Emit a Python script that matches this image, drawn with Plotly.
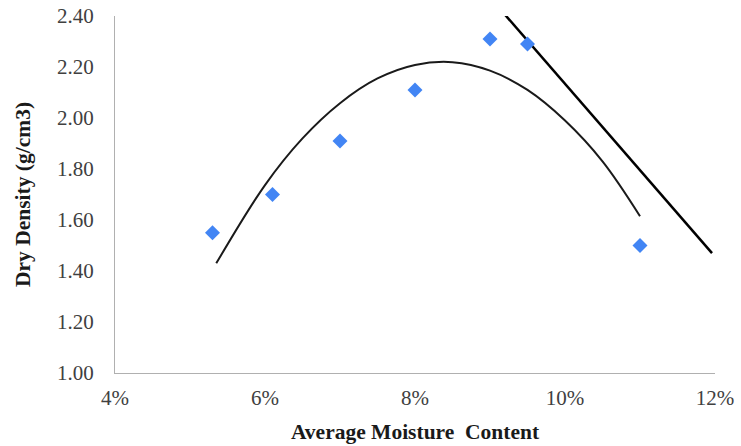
import plotly.graph_objects as go

# Measured data points
moisture = [0.053, 0.061, 0.070, 0.080, 0.090, 0.095, 0.110]
dry_density = [1.55, 1.70, 1.91, 2.11, 2.31, 2.29, 1.50]

# Trend curve
curve_x = [0.0535, 0.060, 0.065, 0.070, 0.075, 0.080, 0.085, 0.090, 0.095, 0.100, 0.105, 0.110]
curve_y = [1.43, 1.737, 1.92, 2.058, 2.155, 2.208, 2.219, 2.186, 2.11, 1.99, 1.83, 1.615]

# Straight line
line_x = [0.092, 0.1196]
line_y = [2.405, 1.47]

x_ticks = [0.04, 0.06, 0.08, 0.10, 0.12]
x_tick_labels = ["4%", "6%", "8%", "10%", "12%"]
y_ticks = [1.00, 1.20, 1.40, 1.60, 1.80, 2.00, 2.20, 2.40]

fig = go.Figure()
fig.add_trace(go.Scatter(x=curve_x, y=curve_y, mode="lines",
                         line=dict(color="#1a1a1a", width=2, shape="spline"),
                         showlegend=False, hoverinfo="skip"))
fig.add_trace(go.Scatter(x=line_x, y=line_y, mode="lines",
                         line=dict(color="black", width=2.5),
                         showlegend=False, hoverinfo="skip", cliponaxis=False))
fig.add_trace(go.Scatter(x=moisture, y=dry_density, mode="markers",
                         marker=dict(symbol="diamond", size=11.5, color="#4285F4"),
                         showlegend=False))

font_family = "Liberation Serif"
fig.update_layout(
    width=741, height=446,
    margin=dict(l=115, r=26, t=16, b=73, autoexpand=False),
    paper_bgcolor="white", plot_bgcolor="white",
    font=dict(family=font_family, size=21, color="#404040"),
    xaxis=dict(range=[0.04, 0.12], tickvals=x_ticks, ticktext=x_tick_labels,
               showgrid=False, zeroline=False, showline=True, linecolor="#b0b0b0",
               linewidth=1, ticks="", ticklabelstandoff=6, automargin=False,
               ticklabeloverflow="allow",
               title=dict(text="<b>Average Moisture  Content</b>",
                          font=dict(family=font_family, size=21.5, color="#1a1a1a"), standoff=14)),
    yaxis=dict(range=[1.0, 2.4], tickvals=y_ticks, tickformat=".2f",
               showgrid=False, zeroline=False, showline=True, linecolor="#b0b0b0",
               linewidth=1, ticks="", ticklabelstandoff=16, automargin=False,
               ticklabeloverflow="allow",
               title=dict(text="<b>Dry Density (g/cm3)</b>",
                          font=dict(family=font_family, size=21.5, color="#1a1a1a"), standoff=20)),
)

fig.write_html("out.html", config={"displayModeBar": False},
               post_script="document.body.style.margin='0px';document.body.style.overflow='hidden';")
